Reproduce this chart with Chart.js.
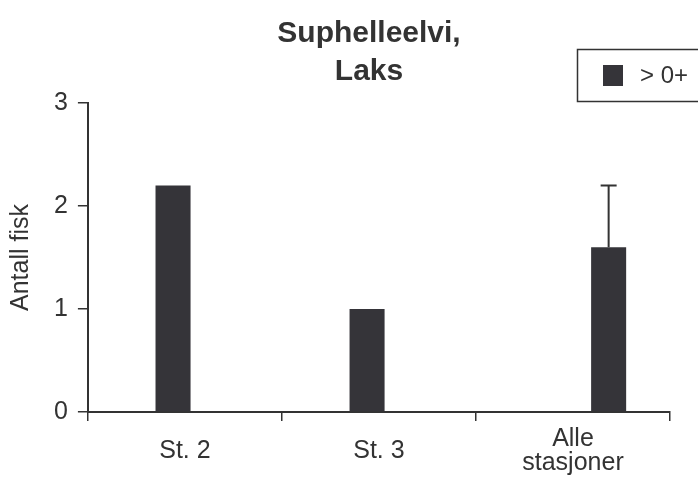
<!DOCTYPE html>
<html>
<head>
<meta charset="utf-8">
<script src="https://cdn.jsdelivr.net/npm/chart.js@4/dist/chart.umd.min.js"></script>
<style>
  html, body { margin: 0; padding: 0; background: #fff; }
  canvas { display: block; }
</style>
</head>
<body>
<canvas id="myChart" width="698" height="484"></canvas>
<script>
// ===================== Data =====================
const titleLines = ['Suphelleelvi,', 'Laks'];
const categories = ['St. 2', 'St. 3', ['Alle', 'stasjoner']];
const laksOver0 = [2.2, 1.0, null];        // > 0+ per station
const laksOver0Alle = [null, null, 1.6];   // > 0+ mean for all stations
const alleErrorUp = [null, null, 0.6];     // upper error bar (to 2.2)
const emptySlot = [null, null, null];      // empty slots Excel left in the cluster
const laks0 = [0, 0, null];                // 0+ (all zero)
const yTicks = [0, 1, 2, 3];
// ===================== Data =====================

const barColor = '#353439';
const inkColor = '#333333';
const fontFamily = "'Liberation Sans', Arial, sans-serif";

// error bar drawn from the bar top up to value + error
const errorBars = {
    id: 'errorBars',
    afterDatasetsDraw(chart) {
        const ctx = chart.ctx;
        const yScale = chart.scales.y;
        chart.data.datasets.forEach((ds, di) => {
            if (!ds.errorUp) return;
            const meta = chart.getDatasetMeta(di);
            meta.data.forEach((bar, i) => {
                const v = ds.data[i];
                const e = ds.errorUp[i];
                if (v == null || e == null) return;
                const top = yScale.getPixelForValue(v + e);
                ctx.save();
                ctx.strokeStyle = inkColor;
                ctx.lineWidth = 2;
                ctx.beginPath();
                ctx.moveTo(bar.x, bar.y);
                ctx.lineTo(bar.x, top);
                ctx.moveTo(bar.x - 8, top);
                ctx.lineTo(bar.x + 8, top);
                ctx.stroke();
                ctx.restore();
            });
        });
    }
};

// two line bold title, centred a bit left of the plot like the original
const chartTitle = {
    id: 'chartTitle',
    afterDraw(chart) {
        const ctx = chart.ctx;
        ctx.save();
        ctx.fillStyle = inkColor;
        ctx.font = 'bold 30px ' + fontFamily;
        ctx.textAlign = 'center';
        ctx.textBaseline = 'alphabetic';
        titleLines.forEach((line, i) => ctx.fillText(line, 369, 42 + i * 38));
        ctx.restore();
    }
};

// boxed legend in the top right corner (runs off the edge like the original)
const boxLegend = {
    id: 'boxLegend',
    afterDraw(chart) {
        const ctx = chart.ctx;
        const ds = chart.data.datasets[1];
        ctx.save();
        ctx.strokeStyle = inkColor;
        ctx.lineWidth = 1.5;
        ctx.strokeRect(577.5, 49.5, 200, 52);
        ctx.fillStyle = ds.backgroundColor;
        ctx.fillRect(603, 65, 20, 21);
        ctx.fillStyle = inkColor;
        ctx.font = '24px ' + fontFamily;
        ctx.textBaseline = 'alphabetic';
        ctx.textAlign = 'left';
        ctx.fillText(ds.label, 640, 83);
        ctx.restore();
    }
};

const ctx = document.getElementById('myChart').getContext('2d');
const chart = new Chart(ctx, {
    type: 'bar',
    data: {
        labels: categories,
        datasets: [
            { label: '', data: emptySlot, backgroundColor: barColor },
            { label: '> 0+', data: laksOver0, backgroundColor: barColor },
            { label: '0+', data: laks0, backgroundColor: barColor },
            { label: '> 0+ (alle)', data: laksOver0Alle, backgroundColor: barColor, errorUp: alleErrorUp },
        ],
    },
    options: {
        responsive: false,
        animation: false,
        devicePixelRatio: 1,
        categoryPercentage: 0.49,
        barPercentage: 1.474,
        layout: { padding: { left: 0, right: 28, top: 103, bottom: 0 } },
        plugins: {
            legend: { display: false },
            tooltip: { enabled: false },
            title: { display: false },
        },
        scales: {
            x: {
                offset: true,
                afterFit: scale => { scale.height = 72; },
                border: { display: true, color: inkColor, width: 2 },
                grid: {
                    offset: true,
                    drawOnChartArea: false,
                    drawTicks: true,
                    tickLength: 9,
                    color: inkColor,
                    lineWidth: 1.5,
                },
                ticks: {
                    color: inkColor,
                    padding: 18,
                    maxRotation: 0,
                    autoSkip: false,
                    crossAlign: 'center',
                    font: { family: fontFamily, size: 25, lineHeight: '24px' },
                },
            },
            y: {
                min: 0,
                max: 3,
                afterBuildTicks: scale => { scale.ticks = yTicks.map(v => ({ value: v })); },
                border: { display: true, color: inkColor, width: 2 },
                grid: {
                    drawOnChartArea: false,
                    drawTicks: true,
                    tickLength: 10,
                    color: inkColor,
                    lineWidth: 1.5,
                },
                ticks: {
                    color: inkColor,
                    padding: 10,
                    font: { family: fontFamily, size: 25 },
                },
                title: {
                    display: true,
                    text: 'Antall fisk',
                    color: inkColor,
                    font: { family: fontFamily, size: 25, lineHeight: '25px' },
                    padding: { top: 8.5, bottom: 10.5 },
                },
            },
        },
    },
    plugins: [errorBars, chartTitle, boxLegend],
});
</script>
</body>
</html>
